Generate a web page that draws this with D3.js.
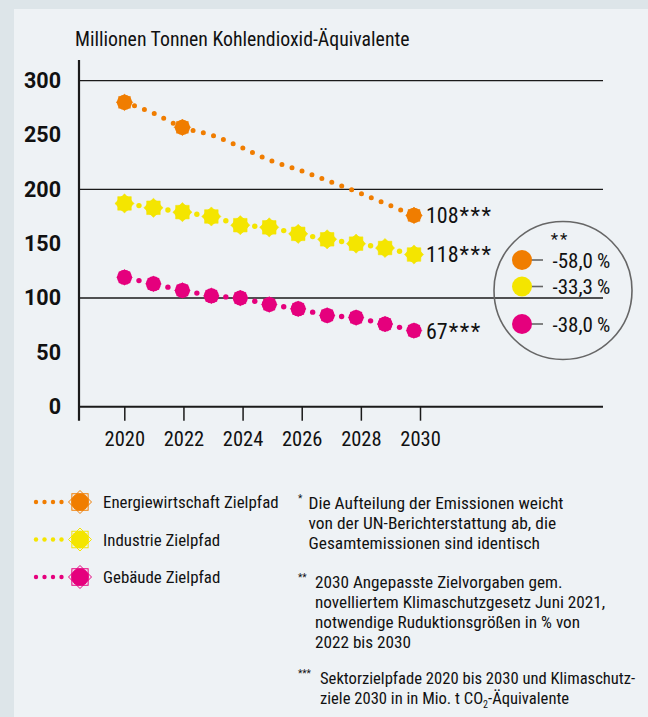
<!DOCTYPE html>
<html>
<head>
<meta charset="utf-8">
<script src="https://cdn.jsdelivr.net/npm/d3@7"></script>
<style>
  body { margin: 0; background: #dde5e9; }
  svg text { font-family: Roboto, "Open Sans", sans-serif; fill: #111; font-stretch: condensed; }
  svg text.wide { font-stretch: normal; }
</style>
</head>
<body>
<svg id="chart" width="648" height="717"></svg>
<script>
// Data
var years = [2020, 2021, 2022, 2023, 2024, 2025, 2026, 2027, 2028, 2029, 2030];
var energie = [280, 270, 257, 250, 239, 227, 218, 208, 198, 187, 176];
var industrie = [187, 183, 179, 175, 167, 165, 159, 154, 150, 146, 140];
var gebaeude = [119, 113, 107, 102, 100, 94, 90, 84, 82, 76, 70];
var energieMarkerYears = [2020, 2022, 2030];

var seriesNames = ["Energiewirtschaft Zielpfad", "Industrie Zielpfad", "Gebäude Zielpfad"];
var seriesColors = ["#f07d00", "#f4e500", "#e5007d"];
var endLabels = ["108", "118", "67"];
var reductions = ["-58,0\u2009%", "-33,3\u2009%", "-38,0\u2009%"];

var xTicks = [2020, 2022, 2024, 2026, 2028, 2030];
var yTicks = [0, 50, 100, 150, 200, 250, 300];
var gridValues = [100, 200, 300];

var title = "Millionen Tonnen Kohlendioxid-Äquivalente";
var notes = [
  { mark: "*", lines: ["Die Aufteilung der Emissionen weicht", "von der UN-Berichterstattung ab, die", "Gesamtemissionen sind identisch"] },
  { mark: "**", lines: ["2030 Angepasste Zielvorgaben gem.", "novelliertem Klimaschutzgesetz Juni 2021,", "notwendige Ruduktionsgrößen in % von", "2022 bis 2030"] },
  { mark: "***", lines: ["Sektorzielpfade 2020 bis 2030 und Klimaschutz-", "ziele 2030 in in Mio. t CO|2|-Äquivalente"] }
];

var svg = d3.select("#chart");

// panel background
svg.append("rect")
    .attr("x", 14).attr("y", 9)
    .attr("width", 634).attr("height", 708)
    .attr("fill", "#eef2f5");

// Scales
var x = d3.scaleLinear().domain([2020, 2030]).range([124.3, 420]);
var xm = d3.scaleLinear().domain([2020, 2030]).range([124.5, 414]); // markers sit a bit left of the 2030 tick
var y = d3.scaleLinear().domain([0, 300]).range([406.7, 80.6]);
var left = 79, right = 603;

// title
svg.append("text")
    .attr("x", 75).attr("y", 46)
    .style("font-size", "19.8px")
    .text(title);

// gridlines
svg.selectAll(".grid")
    .data(gridValues)
    .join("line")
    .attr("class", "grid")
    .attr("x1", left).attr("x2", right)
    .attr("y1", d => y(d)).attr("y2", d => y(d))
    .attr("stroke", "#1a1a1a")
    .attr("stroke-width", 1.3);

// y axis labels
var yAxis = svg.append("g")
    .attr("transform", "translate(" + left + ",0)")
    .call(d3.axisLeft(y).tickValues(yTicks).tickSize(0).tickPadding(18));
yAxis.select(".domain").remove();
yAxis.selectAll("text")
    .attr("class", "wide")
    .style("font-size", "21.5px")
    .style("font-weight", "bold")
    .style("font-family", "Roboto, sans-serif")
    .attr("fill", "#111");

// x axis ticks and labels
var xAxis = svg.append("g")
    .attr("transform", "translate(0," + y(0) + ")")
    .call(d3.axisBottom(x).tickValues(xTicks).tickFormat(d3.format("d")).tickSize(14).tickPadding(11));
xAxis.select(".domain").remove();
xAxis.selectAll("line").attr("stroke", "#1a1a1a").attr("stroke-width", 1.5);
xAxis.selectAll("text")
    .style("font-size", "20.5px")
    .style("font-family", "Roboto, sans-serif")
    .attr("fill", "#111");

// axis lines
svg.append("line")
    .attr("x1", left).attr("x2", right)
    .attr("y1", y(0)).attr("y2", y(0))
    .attr("stroke", "#1a1a1a").attr("stroke-width", 2);
svg.append("line")
    .attr("x1", left).attr("x2", left)
    .attr("y1", 60).attr("y2", y(0) + 14)
    .attr("stroke", "#1a1a1a").attr("stroke-width", 2.2);

// sun shaped marker: two squares turned against each other plus a disc
function sun(sel, color, R, r, outline) {
    [0, 45].forEach(function(a) {
        sel.append("path")
            .attr("d", "M" + R + ",0L0," + R + "L" + (-R) + ",0L0," + (-R) + "Z")
            .attr("transform", "rotate(" + a + ")")
            .attr("fill", outline ? "none" : color)
            .attr("stroke", color).attr("stroke-width", outline ? 1 : 0.5);
    });
    sel.append("circle").attr("r", r).attr("fill", color);
}

var line = d3.line().x((d, i) => xm(years[i])).y(d => y(d)).curve(d3.curveMonotoneX);

// Energiewirtschaft: fine dotted line, markers only at some years
svg.append("path")
    .datum(energie)
    .attr("d", line)
    .attr("fill", "none")
    .attr("stroke", seriesColors[0])
    .attr("stroke-width", 5)
    .attr("stroke-linecap", "round")
    .attr("stroke-dasharray", "0,10.6");

svg.selectAll(".m-energie")
    .data(energieMarkerYears)
    .join("g")
    .attr("class", "m-energie")
    .attr("transform", d => "translate(" + xm(d) + "," + y(energie[years.indexOf(d)]) + ")")
    .each(function() { sun(d3.select(this), seriesColors[0], 8.3, 7.6, false); });

// Industrie and Gebäude: marker every year, one small dot between
[industrie, gebaeude].forEach(function(values, k) {
    var color = seriesColors[k + 1];
    var mids = d3.pairs(values.map((v, i) => [xm(years[i]), y(v)]));
    svg.selectAll(".mid-" + k)
        .data(mids)
        .join("circle")
        .attr("class", "mid-" + k)
        .attr("cx", d => (d[0][0] + d[1][0]) / 2)
        .attr("cy", d => (d[0][1] + d[1][1]) / 2)
        .attr("r", 2.7)
        .attr("fill", color);
    svg.selectAll(".mk-" + k)
        .data(values)
        .join("g")
        .attr("class", "mk-" + k)
        .attr("transform", (d, i) => "translate(" + xm(years[i]) + "," + y(d) + ")")
        .each(function() {
            if (k === 0) sun(d3.select(this), color, 9.6, 7.6, false);
            else sun(d3.select(this), color, 7.9, 7.5, false);
        });
});

// end labels
[energie, industrie, gebaeude].forEach(function(values, k) {
    var t = svg.append("text")
        .attr("x", xm(2030) + 12)
        .attr("y", y(values[values.length - 1]))
        .attr("dy", "0.36em")
        .style("font-size", "22px")
        .text(endLabels[k]);
    t.append("tspan").attr("dx", 1).style("letter-spacing", "1.5px").text("***");
});

// reduction circle
var cx = 563, cy = 290.5;
var ring = svg.append("g").attr("transform", "translate(" + cx + "," + cy + ")");
ring.append("circle")
    .attr("r", 69)
    .attr("fill", "none")
    .attr("stroke", "#666")
    .attr("stroke-width", 1.6);
ring.append("text")
    .attr("x", -3).attr("y", -46)
    .attr("text-anchor", "middle")
    .style("font-size", "17px")
    .style("letter-spacing", "2px")
    .text("**");
var rowY = [-30.5, -4, 33.5];
reductions.forEach(function(label, k) {
    var row = ring.append("g").attr("transform", "translate(0," + rowY[k] + ")");
    row.append("line")
        .attr("x1", -41).attr("x2", -20)
        .attr("stroke", "#666").attr("stroke-width", 1.6);
    row.append("circle")
        .attr("cx", -41).attr("r", 10)
        .attr("fill", seriesColors[k]);
    row.append("text")
        .attr("x", -10.5).attr("dy", "0.36em")
        .style("font-size", "21px")
        .text(label);
});

// legend
var legend = svg.append("g");
seriesNames.forEach(function(name, k) {
    var row = legend.append("g").attr("transform", "translate(0," + (502 + k * 37.5) + ")");
    row.selectAll("circle.dot")
        .data([0, 1, 2, 3])
        .join("circle")
        .attr("class", "dot")
        .attr("cx", d => 36 + d * 8.5)
        .attr("r", 2.2)
        .attr("fill", seriesColors[k]);
    var s = row.append("g").attr("transform", "translate(80,0)");
    sun(s, seriesColors[k], 11.5, 8.8, true);
    row.append("text")
        .attr("x", 103).attr("dy", "0.36em")
        .style("font-size", "16.9px")
        .text(name);
});

// footnotes
var noteTop = [508.5, 587.5, 684];
var noteIndent = [308.5, 315, 320];
var noteSize = [17.4, 17.2, 16.6];
notes.forEach(function(n, k) {
    svg.append("text")
        .attr("x", 298).attr("y", noteTop[k] - 7)
        .style("font-size", "10px")
        .text(n.mark);
    n.lines.forEach(function(l, j) {
        var t = svg.append("text")
            .attr("x", noteIndent[k]).attr("y", noteTop[k] + j * 20.2)
            .style("font-size", noteSize[k] + "px");
        var parts = l.split("|");
        t.append("tspan").text(parts[0]);
        if (parts.length > 1) {
            t.append("tspan").attr("dy", 4).style("font-size", "10px").text(parts[1]);
            t.append("tspan").attr("dy", -4).text(parts[2]);
        }
    });
});
</script>
</body>
</html>
